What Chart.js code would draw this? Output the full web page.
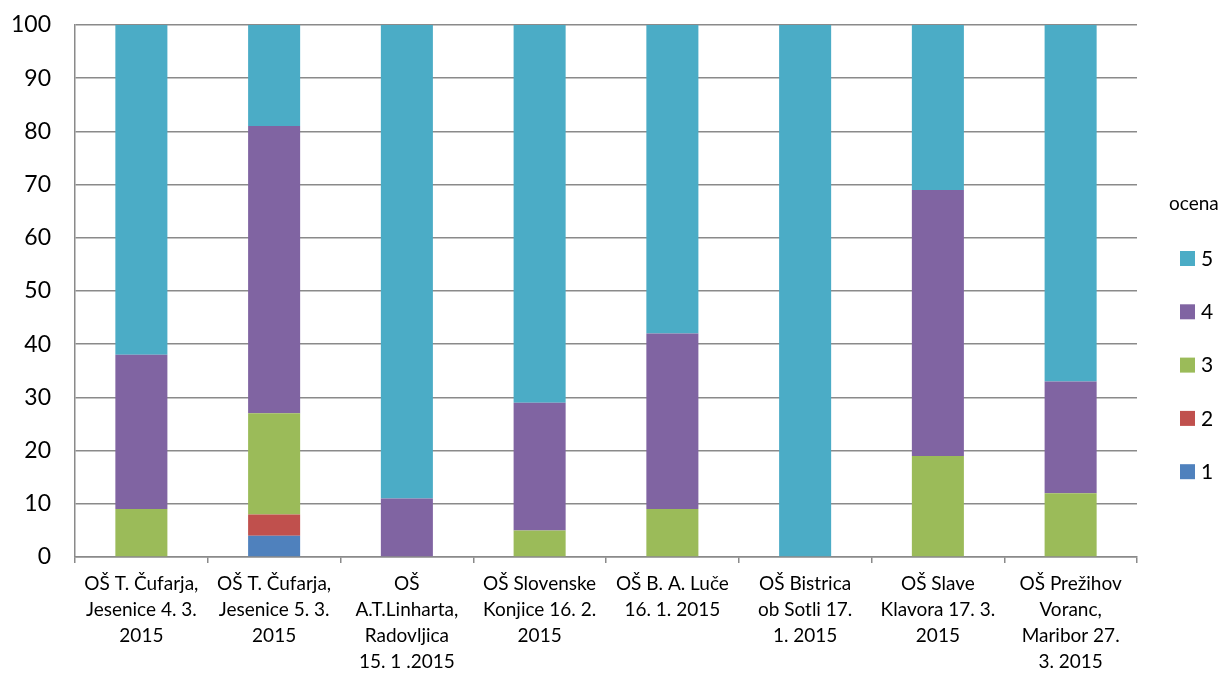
<!DOCTYPE html>
<html><head><meta charset="utf-8">
<script src="https://cdn.jsdelivr.net/npm/chart.js@4/dist/chart.umd.min.js"></script>
<style>html,body{margin:0;padding:0;background:#fff}#wrap{width:1230px;height:686px}</style>
</head><body><div id="wrap"><canvas id="c" width="1230" height="686"></canvas></div>
<script>
const categories = [
  ["OŠ T. Čufarja,", "Jesenice 4. 3.", "2015"],
  ["OŠ T. Čufarja,", "Jesenice 5. 3.", "2015"],
  ["OŠ", "A.T.Linharta,", "Radovljica", "15. 1 .2015"],
  ["OŠ Slovenske", "Konjice 16. 2.", "2015"],
  ["OŠ B. A. Luče", "16. 1. 2015"],
  ["OŠ Bistrica", "ob Sotli 17.", "1. 2015"],
  ["OŠ Slave", "Klavora 17. 3.", "2015"],
  ["OŠ Prežihov", "Voranc,", "Maribor 27.", "3. 2015"]
];
const grade1 = [0, 4, 0, 0, 0, 0, 0, 0];
const grade2 = [0, 4, 0, 0, 0, 0, 0, 0];
const grade3 = [9, 19, 0, 5, 9, 0, 19, 12];
const grade4 = [29, 54, 11, 24, 33, 0, 50, 21];
const grade5 = [62, 19, 89, 71, 58, 100, 31, 67];
const legendTitle = "ocena";
const yTicks = [0, 10, 20, 30, 40, 50, 60, 70, 80, 90, 100];

const FONT = "Lato, 'Open Sans', sans-serif";
const mk = (label, data, color) => ({label, data, backgroundColor: color, borderWidth: 0,
  barPercentage: 0.392, categoryPercentage: 1});

const legendPlugin = {
  id: 'customLegend',
  afterDraw(chart) {
    const ctx = chart.ctx;
    ctx.save();
    ctx.fillStyle = '#000';
    ctx.font = '19px ' + FONT;
    ctx.textBaseline = 'middle';
    ctx.textAlign = 'left';
    ctx.fillText(legendTitle, 1169, 204);
    const ds = chart.data.datasets.slice().reverse();
    ds.forEach((d, i) => {
      const y = 258 + i * 53.3;
      ctx.fillStyle = d.backgroundColor;
      ctx.fillRect(1180, y - 7, 15, 15);
      ctx.fillStyle = '#000';
      ctx.font = '21px ' + FONT;
      ctx.fillText(d.label, 1201, y + 1);
    });
    ctx.restore();
  }
};

new Chart(document.getElementById('c'), {
  type: 'bar',
  data: {
    labels: categories,
    datasets: [
      mk('1', grade1, '#4F81BD'),
      mk('2', grade2, '#C0504D'),
      mk('3', grade3, '#9BBB59'),
      mk('4', grade4, '#8064A2'),
      mk('5', grade5, '#4BACC6')
    ]
  },
  options: {
    responsive: false,
    animation: false,
    layout: {padding: {left: 0, right: 93, top: 25, bottom: 0}},
    plugins: {legend: {display: false}, tooltip: {enabled: false}},
    scales: {
      x: {
        stacked: true,
        offset: true,
        grid: {display: true, drawOnChartArea: false, drawTicks: true, tickLength: 6, offset: true,
               color: '#8a8a8a', lineWidth: 1.5},
        border: {display: true, color: '#8a8a8a', width: 1.5},
        ticks: {color: '#000', font: {family: FONT, size: 19, lineHeight: 1.37}, maxRotation: 0, autoSkip: false, padding: 8},
        afterFit(s) { s.height = 686 - 557; s.paddingLeft = 0; s.paddingRight = 0; }
      },
      y: {
        stacked: true,
        min: 0, max: 100,
        afterBuildTicks(s) { s.ticks = yTicks.map(v => ({value: v})); },
        grid: {color: '#8a8a8a', lineWidth: 1.5, drawTicks: false},
        border: {display: true, color: '#8a8a8a', width: 1.5},
        ticks: {color: '#000', font: {family: FONT, size: 23}, padding: 24},
        afterFit(s) { s.width = 75; s.paddingTop = 0; s.paddingBottom = 0; }
      }
    }
  },
  plugins: [legendPlugin]
});
</script></body></html>
